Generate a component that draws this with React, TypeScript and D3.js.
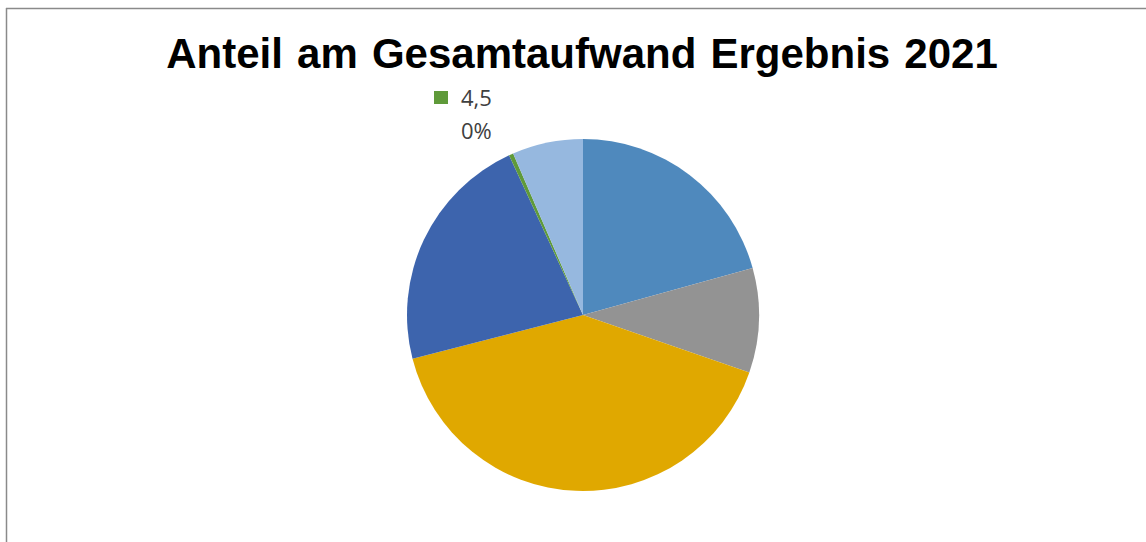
import * as d3 from "d3"

const categories = ["1", "2", "3", "4", "4,5", "5"]
const shares = [20.7, 9.6, 40.7, 22.1, 0.4, 6.5]
const colors = ["#4F89BD", "#939393", "#E0A800", "#3D64AD", "#5F9A3A", "#96B8DF"]
const title = "Anteil am Gesamtaufwand Ergebnis 2021"
const labelledCategory = "4,5"
const labelText = "0%"

type Slice = { name: string; value: number; color: string }
const slices: Slice[] = categories.map((name, i) => ({ name, value: shares[i], color: colors[i] }))

export default function App() {
    const width = 1146
    const height = 542
    const cx = 583
    const cy = 315
    const radius = 176

    const pie = d3.pie<Slice>().value((d) => d.value).sort(null)
    const arc = d3.arc<d3.PieArcDatum<Slice>>().innerRadius(0).outerRadius(radius)
    const arcs = pie(slices)
    const labelled = slices.find((s) => s.name === labelledCategory)!

    return (
        <svg
            width={width}
            height={height}
            viewBox={`0 0 ${width} ${height}`}
            style={{ position: "fixed", left: 0, top: 0, background: "#fff" }}
        >
            <rect x={0} y={0} width={width} height={height} fill="#fff" />
            <line x1={6.5} y1={8} x2={6.5} y2={height} stroke="#8a8a8a" strokeWidth={1.5} />
            <line x1={6} y1={8.5} x2={width} y2={8.5} stroke="#8a8a8a" strokeWidth={1.5} />

            <text
                x={582}
                y={68}
                textAnchor="middle"
                fontFamily="Liberation Sans, Arial, sans-serif"
                fontWeight="bold"
                fontSize={42}
                wordSpacing={2.5}
                fill="#000"
            >
                {title}
            </text>

            <g transform={`translate(${cx},${cy})`}>
                {arcs.map((a, i) => (
                    <path key={i} d={arc(a)!} fill={a.data.color} />
                ))}
            </g>

            <rect x={434} y={91} width={14} height={13} fill={labelled.color} />
            <text x={461} y={106} fontFamily="Open Sans, sans-serif" fontSize={22} fill="#404040">
                {labelled.name}
            </text>
            <text x={461} y={139} fontFamily="Open Sans, sans-serif" fontSize={22} fill="#404040">
                {labelText}
            </text>
        </svg>
    )
}
